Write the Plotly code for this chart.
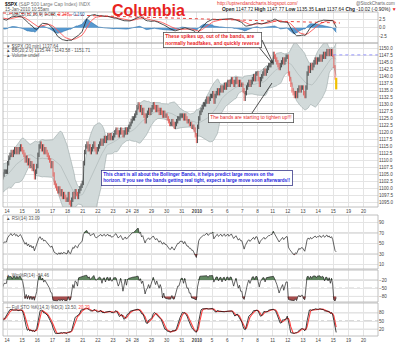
import numpy as np
import pandas as pd
import plotly.graph_objects as go

# ---------------- 30-minute closes, S&P 500 ($SPX) ----------------
# warm-up sessions (left of the visible range, used by the indicators)
dec09 = [1092, 1089, 1087, 1088, 1090, 1091, 1092, 1093, 1094, 1094, 1095, 1096, 1096]
dec10 = [1099, 1101, 1100, 1101, 1102, 1101, 1100, 1101, 1102, 1103, 1102, 1101, 1102]
dec11 = [1105, 1107, 1108, 1107, 1106, 1107, 1106, 1105, 1104, 1105, 1106, 1106, 1106]

dec14 = [1109, 1111, 1112, 1113, 1112, 1113, 1114, 1113, 1114, 1113, 1114, 1115, 1114]
dec15 = [1113, 1112, 1110, 1111, 1109, 1110, 1108, 1109, 1107, 1108, 1104, 1106, 1108]
dec16 = [1112, 1115, 1116, 1114, 1115, 1113, 1114, 1113, 1112, 1111, 1110, 1108, 1109]
dec17 = [1105, 1102, 1101, 1100, 1099, 1100, 1098, 1099, 1097, 1098, 1097, 1096, 1096]
dec18 = [1098, 1095, 1094, 1096, 1098, 1097, 1099, 1098, 1097, 1099, 1100, 1101, 1102]
dec21 = [1109, 1113, 1115, 1116, 1114, 1115, 1113, 1114, 1115, 1116, 1114, 1113, 1114]
dec22 = [1115, 1116, 1117, 1116, 1117, 1118, 1117, 1118, 1119, 1118, 1119, 1118, 1118]
dec23 = [1119, 1120, 1121, 1120, 1119, 1120, 1121, 1120, 1119, 1120, 1121, 1120, 1121]
dec24 = [1122, 1123, 1124, 1125, 1125, 1126, 1127]
dec28 = [1129, 1130, 1128, 1129, 1127, 1128, 1126, 1124, 1126, 1127, 1128, 1127, 1128]
dec29 = [1129, 1130, 1129, 1128, 1129, 1128, 1127, 1128, 1127, 1126, 1127, 1126, 1126]
dec30 = [1125, 1124, 1123, 1123, 1124, 1123, 1122, 1123, 1124, 1125, 1125, 1126, 1126]
dec31 = [1126, 1125, 1126, 1125, 1124, 1124, 1123, 1123, 1122, 1122, 1121, 1119, 1117]
jan04 = [1122, 1125, 1127, 1128, 1129, 1130, 1130, 1131, 1132, 1131, 1132, 1133, 1133]
jan05 = [1134, 1131, 1133, 1134, 1135, 1134, 1135, 1136, 1135, 1136, 1137, 1136, 1137]
jan06 = [1138, 1137, 1138, 1139, 1138, 1137, 1138, 1139, 1138, 1137, 1138, 1137, 1137]
jan07 = [1135, 1132, 1134, 1136, 1137, 1138, 1137, 1138, 1139, 1140, 1139, 1141, 1141]
jan08 = [1139, 1137, 1139, 1140, 1141, 1142, 1141, 1142, 1143, 1144, 1144, 1145, 1145]
jan11 = [1148, 1147, 1146, 1145, 1144, 1143, 1144, 1145, 1146, 1145, 1146, 1147, 1147]
jan12 = [1141, 1139, 1137, 1135, 1134, 1133, 1134, 1133, 1135, 1136, 1135, 1136, 1136]
jan13 = [1134, 1133, 1136, 1141, 1143, 1142, 1144, 1143, 1144, 1145, 1146, 1145, 1146]
jan14 = [1146, 1147, 1146, 1147, 1148, 1147, 1148, 1149, 1148, 1149, 1148, 1149, 1147.66]

# today's bars (10:55am)
jan15_open = [1147.72, 1143.5, 1139.2]
jan15_high = [1147.77, 1144.0, 1139.5]
jan15_low = [1143.0, 1138.8, 1135.35]
jan15_close = [1143.5, 1139.2, 1137.64]

prev_close = 1147.66
WICK = 0.8  # typical intrabar excursion beyond open/close, in index points

warm_sessions = [dec09, dec10, dec11]
sessions = [dec14, dec15, dec16, dec17, dec18, dec21, dec22, dec23, dec24,
            dec28, dec29, dec30, dec31, jan04, jan05, jan06, jan07, jan08,
            jan11, jan12, jan13, jan14]
date_labels = ["14", "15", "16", "17", "18", "21", "22", "23", "24", "28", "29",
               "30", "31", "<b>2010</b>", "5", "6", "7", "8", "11", "12", "13",
               "14", "15", "19", "20"]

BARS_PER_DAY = 13

# ---------------- build the bar series ----------------
xs, closes = [], []
for k, day in enumerate(warm_sessions):
    start = k - len(warm_sessions)
    for i, v in enumerate(day):
        xs.append(start + (i + 0.5) / BARS_PER_DAY)
        closes.append(v)
day_starts = []
pos = 0.0
for day in sessions:
    day_starts.append(pos)
    for i, v in enumerate(day):
        xs.append(pos + (i + 0.5) / BARS_PER_DAY)
        closes.append(v)
    pos += len(day) / BARS_PER_DAY
today_start = pos
day_starts.append(pos)
day_starts += [pos + 1, pos + 2]

opens = [closes[0]] + closes[:-1]
highs = [max(o, c) + WICK for o, c in zip(opens, closes)]
lows = [min(o, c) - WICK for o, c in zip(opens, closes)]
for i in range(len(jan15_close)):
    xs.append(today_start + (i + 0.5) / BARS_PER_DAY)
    opens.append(jan15_open[i])
    highs.append(jan15_high[i])
    lows.append(jan15_low[i])
    closes.append(jan15_close[i])

x = np.array(xs)
c = pd.Series(closes, dtype=float)
h = pd.Series(highs, dtype=float)
l = pd.Series(lows, dtype=float)

# ---------------- indicators ----------------
mid = c.rolling(20).mean()
sd = c.rolling(20).std(ddof=0)
bb_up, bb_lo = mid + 2 * sd, mid - 2 * sd

ema12 = c.ewm(span=12, adjust=False).mean()
ema26 = c.ewm(span=26, adjust=False).mean()
macd = ema12 - ema26
signal = macd.ewm(span=9, adjust=False).mean()
hist = macd - signal

d = c.diff()
gain = d.clip(lower=0).ewm(alpha=1 / 14, adjust=False).mean()
loss = (-d.clip(upper=0)).ewm(alpha=1 / 14, adjust=False).mean()
rsi = 100 - 100 / (1 + gain / loss)

hh = h.rolling(14).max()
ll = l.rolling(14).min()
wr = -100 * (hh - c) / (hh - ll)
fastk = 100 * (c - ll) / (hh - ll)
full_k = fastk.rolling(3).mean()
full_d = full_k.rolling(3).mean()

vis = x > -0.6
xv = x[vis]

# ---------------- layout geometry (pixels -> paper) ----------------
W, H = 400, 345
X0, X1 = 3, 378
XR = [-0.264, 24.49]


def py(p):
    return 1 - p / H


panels = {
    "macd": (12, 43),
    "price": (43, 207),
    "rsi": (215, 269),
    "wr": (270, 302),
    "sto": (303, 336),
}

FONT = "Liberation Sans"
GRID = "#e4e4e4"
LEVEL = "#a8a8a8"
RED = "#e8332e"

fig = go.Figure()

# MACD panel
fig.add_trace(go.Scatter(x=xv, y=hist[vis], mode="lines", fill="tozeroy",
                         line=dict(color="#2a70ad", width=0.6),
                         fillcolor="rgba(58,135,200,0.85)", xaxis="x", yaxis="y"))
fig.add_trace(go.Scatter(x=xv, y=signal[vis], mode="lines",
                         line=dict(color="#ff5a5a", width=0.9), xaxis="x", yaxis="y"))
fig.add_trace(go.Scatter(x=xv, y=macd[vis], mode="lines",
                         line=dict(color="#222", width=0.8), xaxis="x", yaxis="y"))

# Bollinger bands
fig.add_trace(go.Scatter(x=xv, y=bb_lo[vis], mode="lines",
                         line=dict(color="#9ba7a7", width=0.6), xaxis="x2", yaxis="y2"))
fig.add_trace(go.Scatter(x=xv, y=bb_up[vis], mode="lines", fill="tonexty",
                         fillcolor="#d2dada", line=dict(color="#9ba7a7", width=0.6),
                         xaxis="x2", yaxis="y2"))
fig.add_trace(go.Scatter(x=xv, y=mid[vis], mode="lines",
                         line=dict(color="#aab3b3", width=0.6), xaxis="x2", yaxis="y2"))

# price bars, coloured against the previous close
segs = {"up": ([], []), "down": ([], [])}
for i in np.where(vis)[0]:
    if i == len(closes) - 1:
        continue
    key = "down" if closes[i] < closes[i - 1] else "up"
    segs[key][0].extend([x[i], x[i], None])
    segs[key][1].extend([lows[i], highs[i], None])
fig.add_trace(go.Scatter(x=segs["up"][0], y=segs["up"][1], mode="lines",
                         line=dict(color="#111", width=0.7), xaxis="x2", yaxis="y2"))
fig.add_trace(go.Scatter(x=segs["down"][0], y=segs["down"][1], mode="lines",
                         line=dict(color=RED, width=0.7), xaxis="x2", yaxis="y2"))
fig.add_trace(go.Scatter(x=[x[-1], x[-1]], y=[lows[-1], highs[-1]], mode="lines",
                         line=dict(color="#f0c000", width=2.2), xaxis="x2", yaxis="y2"))
fig.add_trace(go.Scatter(x=[today_start, XR[1]], y=[prev_close, prev_close], mode="lines",
                         line=dict(color="#7b7bff", width=0.8, dash="dot"),
                         xaxis="x2", yaxis="y2"))


def zone_fill(series, level, color, above, ax, ay):
    base = np.full(vis.sum(), level, dtype=float)
    clipped = np.maximum(series[vis], level) if above else np.minimum(series[vis], level)
    fig.add_trace(go.Scatter(x=xv, y=base, mode="lines", line=dict(width=0),
                             xaxis=ax, yaxis=ay))
    fig.add_trace(go.Scatter(x=xv, y=clipped, mode="lines", fill="tonexty",
                             fillcolor=color, line=dict(width=0), xaxis=ax, yaxis=ay))


GREEN_FILL = "rgba(70,115,70,0.85)"
RED_FILL = "rgba(150,45,45,0.85)"

# RSI
zone_fill(rsi, 70, GREEN_FILL, True, "x3", "y3")
zone_fill(rsi, 30, RED_FILL, False, "x3", "y3")
fig.add_trace(go.Scatter(x=xv, y=rsi[vis], mode="lines",
                         line=dict(color="#222", width=0.7), xaxis="x3", yaxis="y3"))

# Williams %R
zone_fill(wr, -20, GREEN_FILL, True, "x4", "y4")
zone_fill(wr, -80, RED_FILL, False, "x4", "y4")
fig.add_trace(go.Scatter(x=xv, y=wr[vis], mode="lines",
                         line=dict(color="#222", width=0.7), xaxis="x4", yaxis="y4"))

# Full stochastics
fig.add_trace(go.Scatter(x=xv, y=full_d[vis], mode="lines",
                         line=dict(color="#ff4040", width=1.1), xaxis="x5", yaxis="y5"))
fig.add_trace(go.Scatter(x=xv, y=full_k[vis], mode="lines",
                         line=dict(color="#111", width=0.8), xaxis="x5", yaxis="y5"))

# ---------------- axes ----------------
tick_font = dict(family=FONT, size=4.6, color="#444")
layout = dict(
    width=W, height=H, margin=dict(l=0, r=0, t=0, b=0),
    paper_bgcolor="white", plot_bgcolor="white", showlegend=False,
    font=dict(family=FONT, size=5, color="#333"),
)
names = ["macd", "price", "rsi", "wr", "sto"]
yspecs = {
    "macd": dict(range=[-4.3, 4.5], tickvals=[2.5, 0, -2.5], ticktext=["2.5", "0.0", "-2.5"]),
    "price": dict(range=[1093.4, 1151.9], tickvals=list(np.arange(1095, 1150.1, 2.5)),
                  tickformat=".1f"),
    "rsi": dict(range=[1, 104.8], tickvals=[90, 70, 50, 30, 10]),
    "wr": dict(range=[-100, 16], tickvals=[-20, -50, -80]),
    "sto": dict(range=[-4, 115], tickvals=[80, 50, 20]),
}
for k, name in enumerate(names):
    top, bot = panels[name]
    suffix = "" if k == 0 else str(k + 1)
    layout["xaxis" + suffix] = dict(
        domain=[X0 / W, X1 / W], range=XR, anchor="y" + suffix,
        tickvals=day_starts, ticktext=date_labels,
        showticklabels=name in ("price", "sto"), ticks="", tickfont=tick_font,
        showgrid=True, gridcolor=GRID, gridwidth=0.8, zeroline=False,
        showline=False, fixedrange=True,
    )
    ya = dict(domain=[py(bot), py(top)], anchor="x" + suffix, side="right",
              showgrid=True, gridcolor=GRID, gridwidth=0.8, zeroline=False,
              ticks="", tickfont=tick_font, showline=False, fixedrange=True)
    ya.update(yspecs[name])
    layout["yaxis" + suffix] = ya
fig.update_layout(**layout)

# ---------------- panel frames and level lines ----------------
shapes = []
for name in names:
    top, bot = panels[name]
    shapes.append(dict(type="rect", xref="paper", yref="paper", x0=X0 / W, x1=X1 / W,
                       y0=py(bot), y1=py(top), line=dict(color="#b0b0b0", width=0.8)))
levels = [("y3", 70, "solid"), ("y3", 30, "solid"), ("y3", 50, "dashdot"),
          ("y4", -20, "solid"), ("y4", -80, "solid"), ("y4", -50, "dashdot"),
          ("y5", 80, "solid"), ("y5", 20, "solid"), ("y5", 50, "dashdot")]
for ay, lv, dash in levels:
    shapes.append(dict(type="line", xref="x" + ay[1:], yref=ay, x0=XR[0], x1=XR[1],
                       y0=lv, y1=lv, layer="below",
                       line=dict(color=LEVEL, width=0.9, dash=dash)))
# MACD divergence trendline
shapes.append(dict(type="line", xref="paper", yref="paper", x0=3 / W, y0=py(13),
                   x1=340 / W, y1=py(23), line=dict(color=RED, width=0.9, dash="dot")))
# callout leader lines
for (ax0, ay0, ax1, ay1) in [(258, 46, 272, 63), (262, 40, 273, 63), (252, 113, 272, 83)]:
    shapes.append(dict(type="line", xref="paper", yref="paper", x0=ax0 / W, y0=py(ay0),
                       x1=ax1 / W, y1=py(ay1), line=dict(color="#222", width=0.8)))
fig.update_layout(shapes=shapes)


# ---------------- text ----------------
def label(px, pyy, text, size=4.8, color="#333", anchor="left", bold=False,
          **kw):
    t = f"<b>{text}</b>" if bold else text
    return dict(xref="paper", yref="paper", x=px / W, y=py(pyy), text=t,
                showarrow=False, xanchor=anchor, yanchor="middle",
                font=dict(family=FONT, size=size, color=color), **kw)


ann = [
    label(3, 4, "<b>$SPX</b> <span style='color:#777'>(S&P 500 Large Cap Index) INDX</span>",
          size=4.8, color="#111"),
    label(3, 9.5, "15-Jan-2010 10:55am", size=4.5, color="#555"),
    label(148, 10, "Columbia", size=16, color="#e8231e", anchor="center", bold=True),
    label(215, 3.5, "http://uptrendandcharts.blogspot.com/", size=4.8, color=RED),
    label(397, 3.5, "@StockCharts.com", size=4.5, color="#666", anchor="right"),
    label(398, 9.5, "<b>Open</b> 1147.72 <b>High</b> 1147.77 <b>Low</b> 1135.35 "
          "<b>Last</b> 1137.64 <b>Chg</b> -10.02 (-0.90%) <span style='color:#e8231e'>▼</span>",
          size=4.9, color="#222", anchor="right"),
    label(4, 14.5, "— MACD(12,26,9) 0.088, <span style='color:#ff4040'>0.248,</span> "
          "<span style='color:#2e78b7'>-0.160</span>", size=4.5, color="#555"),
    label(4, 46.5, "▼ $SPX (30 min) 1137.64", size=4.5, color="#555"),
    label(4, 50.8, "▲ BB(20,2.0) 1135.44 - 1143.58 - 1151.71", size=4.5, color="#555"),
    label(4, 55, "▲ Volume undef", size=4.5, color="#555"),
    label(4, 218.5, "▲ RSI(14) 33.09", size=4.5, color="#555"),
    label(4, 275, "▲ Wm%R(14) -84.46", size=4.5, color="#555"),
    label(4, 307.5, "— Full STO %K(14,3) %D(3) 13.50, "
          "<span style='color:#ff4040'>20.29</span>", size=4.5, color="#555"),
]
box = dict(bgcolor="white", borderwidth=0.8, borderpad=1.5, align="left")
ann.append(dict(xref="paper", yref="paper", x=163 / W, y=py(32), xanchor="left",
                yanchor="top", showarrow=False,
                text="<b>These spikes up, out of the bands, are<br>"
                     "normally headfakes, and quickly reverse</b>",
                font=dict(family=FONT, size=4.9, color="#e8231e"),
                bordercolor="#555", **box))
ann.append(dict(xref="paper", yref="paper", x=208 / W, y=py(113.5), xanchor="left",
                yanchor="top", showarrow=False,
                text="The bands are starting to tighten up!!!",
                font=dict(family=FONT, size=4.9, color="#e8231e"),
                bordercolor="#555", **box))
ann.append(dict(xref="paper", yref="paper", x=101 / W, y=py(170), xanchor="left",
                yanchor="top", showarrow=False,
                text="<b>This chart is all about the Bollinger Bands, it helps predict "
                     "large moves on the<br>horizon. If you see the bands getting real "
                     "tight, expect a large move soon afterwards!!</b>",
                font=dict(family=FONT, size=4.6, color="#2424e0"),
                bordercolor="#3a3a8a", **box))
fig.update_layout(annotations=ann)

fig.write_html("out.html")
